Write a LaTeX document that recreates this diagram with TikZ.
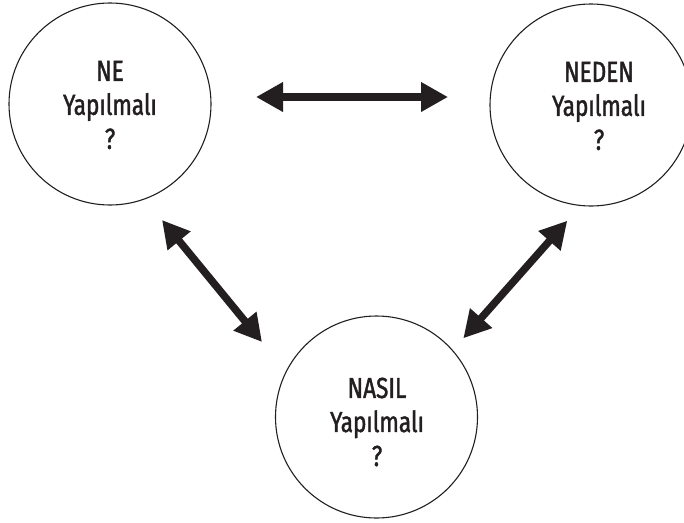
\documentclass[tikz,border=0pt]{standalone}
\usepackage{fontspec}
\setmainfont{Fira Sans}[FakeStretch=0.78,FakeBold=1.4]
\usetikzlibrary{arrows.meta,calc}
\definecolor{ink}{HTML}{231F20}
\begin{document}
\begin{tikzpicture}[x=1pt,y=-1pt,
  bubble/.style={circle,draw=ink,line width=1.1pt,minimum size=202pt,inner sep=0pt},
  lbl/.style={text=ink,align=center,inner sep=0pt,font=\fontsize{29}{34}\selectfont},
  dbl/.style={draw=ink,line width=7.5pt,{Triangle[length=27pt,width=28pt]}-{Triangle[length=27pt,width=28pt]}}]
\clip (0,0) rectangle (684,522);
\node[bubble] (ne) at (110,104) {};
\node[bubble] (neden) at (591,105) {};
\node[bubble] (nasil) at (376.5,417) {};
\node[lbl] (netext) at (110,105) {NE\\Yapılmalı\\?};
\node[lbl] (nedentext) at (599,106) {NEDEN\\Yapılmalı\\?};
\node[lbl] (nasiltext) at (377,422) {NASIL\\Yapılmalı\\?};
\draw[dbl] ($(ne.center)+(146,-7)$) -- ($(neden.center)+(-143,-8)$);
\draw[dbl] ($(ne.center)+(52,116)$) -- ($(nasil.center)+(-114.5,-75)$);
\draw[dbl] ($(neden.center)+(-23.7,115.7)$) -- ($(nasil.center)+(86.8,-78.7)$);
\end{tikzpicture}
\end{document}
